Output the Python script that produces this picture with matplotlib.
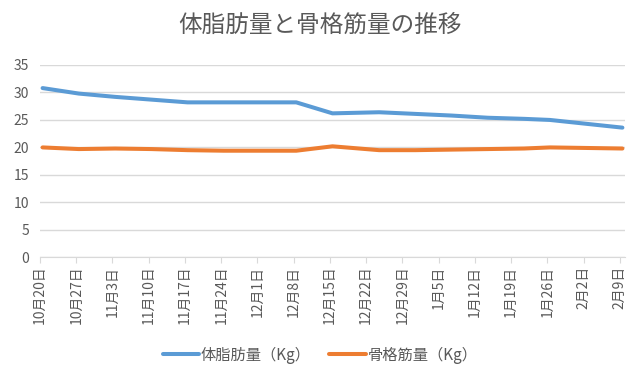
import matplotlib
matplotlib.use("Agg")
import matplotlib.pyplot as plt
import matplotlib.dates as mdates
import numpy as np
import datetime as dt

plt.rcParams['font.family'] = ['Noto Sans CJK JP', 'DejaVu Sans']

title = "体脂肪量と骨格筋量の推移"
series_names = ["体脂肪量（Kg）", "骨格筋量（Kg）"]
dates = ["2019-10-20", "2019-10-27", "2019-11-03", "2019-11-10", "2019-11-17",
         "2019-11-24", "2019-12-01", "2019-12-08", "2019-12-15", "2019-12-24",
         "2019-12-31", "2020-01-07", "2020-01-14", "2020-01-21", "2020-01-26",
         "2020-02-02", "2020-02-09"]
body_fat = [30.8, 29.8, 29.2, 28.7, 28.2, 28.2, 28.2, 28.2, 26.2, 26.4,
            26.1, 25.8, 25.4, 25.2, 25.0, 24.3, 23.6]
muscle = [20.0, 19.7, 19.8, 19.7, 19.5, 19.4, 19.4, 19.4, 20.2, 19.5,
          19.5, 19.6, 19.7, 19.8, 20.0, 19.9, 19.8]
tick_start = "2019-10-20"
tick_end = "2020-02-09"

colors = ["#5B9BD5", "#ED7D31"]
grey_text = "#595959"
grid_col = "#D9D9D9"

x = [mdates.date2num(dt.date.fromisoformat(d)) + 0.5 for d in dates]
t0 = mdates.date2num(dt.date.fromisoformat(tick_start))
t1 = mdates.date2num(dt.date.fromisoformat(tick_end))
ticks = np.arange(t0, t1 + 1, 7)

fig = plt.figure(figsize=(6.4, 3.8), dpi=100)
ax = fig.add_axes([40/640, (380-257.3)/380, 585/640, 192.3/380])

for vals, name, c in zip([body_fat, muscle], series_names, colors):
    ax.plot(x, vals, color=c, lw=2.9, solid_capstyle='round', label=name, zorder=3)

ax.set_xlim(t0, t1 + 1)
ax.set_ylim(0, 35)
ax.set_yticks(np.arange(0, 36, 5))
ax.yaxis.grid(True, color=grid_col, lw=1)
ax.set_axisbelow(True)
ax.set_xticks(ticks)
ax.xaxis.set_major_formatter(mdates.DateFormatter('%-m月%-d日'))
for s in ['top', 'right', 'left']:
    ax.spines[s].set_visible(False)
ax.spines['bottom'].set_color(grid_col)
ax.tick_params(axis='y', length=0, labelsize=10, labelcolor=grey_text, pad=8)
ax.tick_params(axis='x', length=4, color=grid_col, labelsize=10, labelcolor=grey_text,
               labelrotation=90, pad=2)

fig.text(0.5, 1 - 25/380, title, ha='center', va='center', fontsize=17, color=grey_text)

leg = fig.legend(loc='center', bbox_to_anchor=(0.5, 1 - 355/380), ncol=2, frameon=False,
                 fontsize=11, handlelength=2.4, handletextpad=0.1, columnspacing=1.2)
for t in leg.get_texts():
    t.set_color(grey_text)

fig.savefig("out.png", dpi=100)
